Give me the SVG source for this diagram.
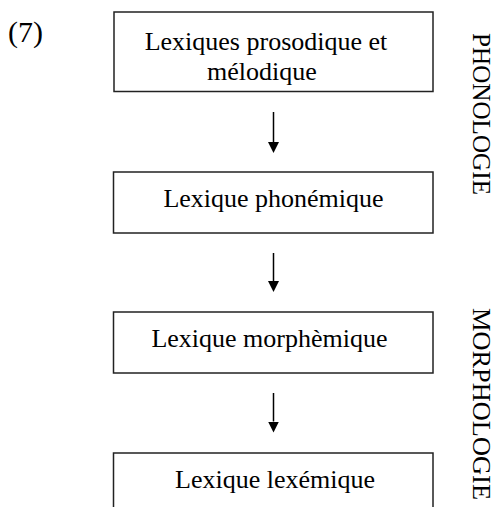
<svg xmlns="http://www.w3.org/2000/svg" width="494" height="507" viewBox="0 0 494 507">
<defs>
<style>
.box{fill:#fff;stroke:#222;stroke-width:1.5}
.t{font-family:"Liberation Serif","Times New Roman",serif;font-size:26px;fill:#000;text-anchor:middle}
.v{font-family:"Liberation Serif","Times New Roman",serif;font-size:26px;fill:#000}
.c{stroke:#000;stroke-width:1.5;fill:none}
</style>
<marker id="ah" viewBox="0 0 11 11" refX="0" refY="5.5" markerWidth="11" markerHeight="11" markerUnits="userSpaceOnUse" orient="auto">
<path d="M0,0 L11,5.5 L0,11 Z" fill="#000"/>
</marker>
</defs>
<rect width="494" height="507" fill="#fff"/>
<text class="v" x="8" y="42" style="font-size:30px">(7)</text>
<g id="n1">
<rect class="box" x="114" y="12" width="319" height="79.5"/>
<text class="t" x="266" y="50">Lexiques prosodique et</text>
<text class="t" x="262" y="80">mélodique</text>
</g>
<g id="n2">
<rect class="box" x="113.5" y="172" width="319.5" height="61"/>
<text class="t" x="273.5" y="207">Lexique phonémique</text>
</g>
<g id="n3">
<rect class="box" x="113.5" y="312" width="319.5" height="61"/>
<text class="t" x="269.5" y="347">Lexique morphèmique</text>
</g>
<g id="n4">
<rect class="box" x="113.5" y="453" width="319.5" height="70"/>
<text class="t" x="275" y="488">Lexique lexémique</text>
</g>
<g id="connectors">
<line class="c" x1="273.5" y1="112" x2="273.5" y2="142" marker-end="url(#ah)"/>
<line class="c" x1="273.5" y1="253" x2="273.5" y2="281" marker-end="url(#ah)"/>
<line class="c" x1="273.5" y1="393" x2="273.5" y2="421.5" marker-end="url(#ah)"/>
</g>
<g id="labels">
<text class="v" transform="translate(473,33) rotate(90)" textLength="162" lengthAdjust="spacingAndGlyphs">PHONOLOGIE</text>
<text class="v" transform="translate(473,308) rotate(90)" textLength="192" lengthAdjust="spacingAndGlyphs">MORPHOLOGIE</text>
</g>
</svg>
